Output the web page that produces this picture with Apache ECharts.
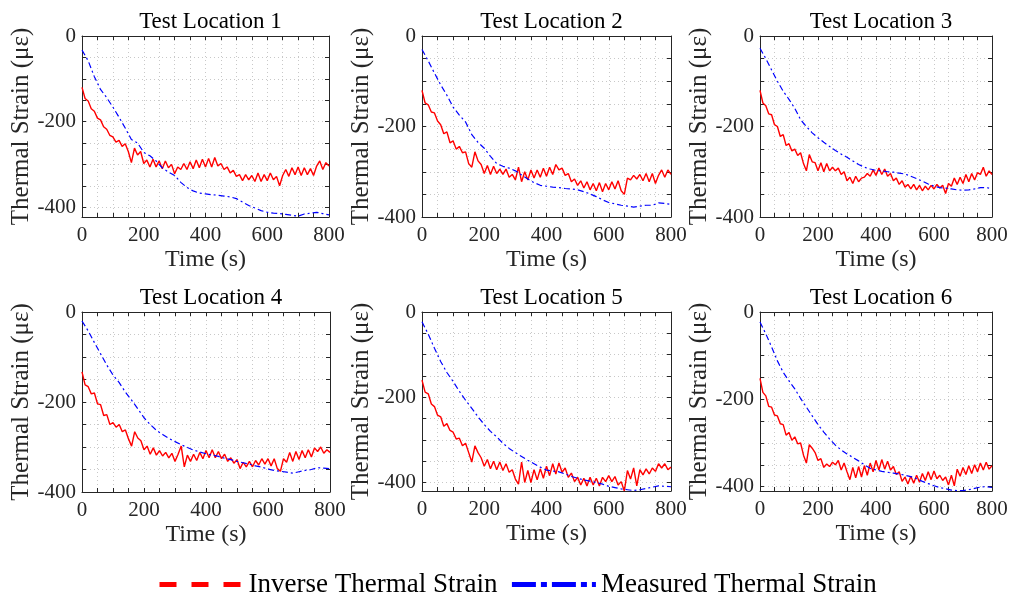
<!DOCTYPE html>
<html><head><meta charset="utf-8">
<script src="https://cdn.jsdelivr.net/npm/echarts@6/dist/echarts.min.js"></script>
<style>html,body{margin:0;padding:0;background:#fff}#c{width:1013px;height:599px}</style>
</head><body><div id="c"></div><script>
const titles = ['Test Location 1','Test Location 2','Test Location 3','Test Location 4','Test Location 5','Test Location 6'];
const seriesNames = ['Inverse Thermal Strain','Measured Thermal Strain'];
const timeFine = [0,10,20,30,40,50,60,70,80,90,100,110,120,130,140,150,160,170,180,190,200,210,220,230,240,250,260,270,280,290,300,310,320,330,340,350,360,370,380,390,400,410,420,430,440,450,460,470,480,490,500,510,520,530,540,550,560,570,580,590,600,610,620,630,640,650,660,670,680,690,700,710,720,730,740,750,760,770,780,790,800];
const timeCoarse = [0,20,40,60,80,100,120,140,160,180,200,220,240,260,280,300,320,340,360,380,400,420,440,460,480,500,520,540,560,580,600,620,640,660,680,700,720,740,760,780,800];

const inverse1 = [-120,-146,-152,-170,-176,-192,-196,-212,-218,-232,-236,-248,-244,-258,-252,-270,-296,-262,-278,-270,-298,-290,-306,-288,-306,-292,-310,-292,-308,-300,-322,-306,-312,-298,-312,-294,-310,-290,-308,-288,-306,-286,-306,-284,-304,-298,-312,-306,-320,-314,-328,-324,-338,-324,-336,-326,-340,-320,-340,-324,-338,-320,-336,-328,-350,-326,-312,-328,-308,-324,-306,-326,-308,-324,-310,-326,-304,-292,-312,-296,-304];
const inverse2 = [-120,-148,-152,-168,-170,-188,-196,-216,-212,-236,-232,-250,-244,-258,-256,-282,-290,-256,-276,-284,-304,-286,-306,-288,-304,-294,-306,-294,-312,-306,-318,-290,-322,-300,-318,-296,-314,-296,-312,-292,-310,-290,-306,-284,-296,-292,-308,-304,-322,-316,-330,-320,-336,-322,-340,-326,-342,-324,-344,-326,-340,-322,-338,-320,-342,-350,-314,-318,-308,-316,-306,-320,-304,-322,-304,-326,-308,-296,-312,-296,-306];
const inverse3 = [-120,-148,-154,-172,-174,-196,-200,-222,-218,-242,-238,-254,-250,-264,-258,-282,-298,-262,-278,-280,-298,-280,-300,-282,-298,-290,-298,-292,-306,-300,-320,-312,-326,-310,-322,-314,-312,-304,-310,-296,-308,-292,-306,-294,-310,-304,-320,-314,-328,-320,-334,-328,-338,-328,-340,-330,-342,-332,-340,-330,-338,-328,-336,-330,-348,-326,-332,-314,-328,-312,-326,-306,-322,-304,-318,-302,-306,-290,-310,-298,-306];
const inverse4 = [-133,-162,-166,-182,-180,-204,-206,-230,-228,-250,-246,-256,-250,-266,-262,-282,-298,-266,-280,-286,-306,-298,-316,-302,-318,-308,-320,-312,-324,-314,-332,-316,-298,-344,-318,-332,-316,-330,-312,-326,-308,-324,-306,-324,-310,-326,-316,-332,-324,-336,-328,-348,-334,-344,-332,-344,-330,-340,-326,-338,-326,-342,-326,-348,-354,-326,-334,-312,-332,-310,-328,-308,-324,-306,-322,-302,-310,-300,-314,-306,-312];
const inverse5 = [-160,-188,-192,-216,-222,-242,-246,-268,-262,-278,-282,-298,-296,-314,-308,-330,-352,-314,-330,-342,-362,-346,-368,-350,-370,-352,-372,-356,-376,-370,-392,-404,-352,-400,-372,-400,-370,-394,-368,-390,-362,-384,-356,-380,-354,-376,-366,-388,-378,-398,-388,-406,-390,-408,-388,-406,-390,-408,-388,-398,-384,-398,-386,-406,-398,-420,-372,-392,-366,-408,-370,-382,-368,-380,-366,-374,-356,-366,-356,-370,-364];
const inverse6 = [-152,-184,-192,-216,-218,-236,-238,-256,-258,-282,-276,-294,-286,-302,-300,-328,-346,-304,-312,-322,-340,-336,-356,-348,-354,-344,-350,-340,-362,-346,-366,-384,-356,-380,-354,-378,-352,-374,-346,-366,-340,-362,-338,-360,-342,-362,-354,-372,-366,-388,-378,-394,-376,-392,-374,-390,-370,-386,-366,-384,-364,-382,-374,-386,-378,-396,-374,-398,-360,-376,-356,-372,-352,-370,-350,-366,-346,-362,-344,-360,-352];

const measured1 = [-33,-58,-95,-125,-144,-166,-190,-215,-242,-250,-272,-280,-292,-308,-318,-326,-342,-354,-362,-367,-369,-371,-372,-374,-376,-380,-388,-396,-402,-408,-412,-414,-415,-417,-419,-421,-416,-414,-412,-415,-418];
const measured2 = [-30,-55,-82,-108,-131,-157,-175,-190,-218,-235,-248,-266,-282,-288,-292,-298,-307,-316,-324,-330,-332,-334,-335,-337,-338,-340,-344,-349,-355,-362,-368,-371,-374,-376,-378,-376,-374,-374,-369,-370,-372];
const measured3 = [-27,-50,-75,-100,-122,-140,-160,-185,-200,-214,-225,-235,-244,-253,-261,-268,-276,-284,-290,-294,-297,-298,-300,-301,-303,-305,-310,-315,-321,-327,-332,-335,-336,-338,-340,-341,-340,-338,-335,-335,-337];
const measured4 = [-20,-42,-68,-93,-118,-140,-157,-178,-196,-215,-235,-250,-263,-272,-281,-288,-295,-301,-307,-311,-315,-318,-321,-325,-328,-332,-335,-338,-342,-345,-349,-352,-354,-356,-358,-355,-352,-350,-346,-347,-348];
const measured5 = [-23,-52,-85,-116,-142,-163,-186,-207,-226,-246,-264,-280,-293,-308,-320,-330,-339,-348,-356,-364,-371,-373,-375,-380,-386,-390,-394,-397,-400,-404,-409,-412,-415,-417,-419,-417,-414,-411,-408,-409,-410];
const measured6 = [-23,-50,-80,-112,-138,-158,-176,-198,-218,-238,-258,-275,-291,-305,-316,-325,-333,-341,-350,-358,-362,-365,-367,-369,-371,-374,-377,-382,-388,-393,-398,-402,-405,-408,-409,-409,-407,-404,-401,-400,-402];

const inverseAll = [inverse1, inverse2, inverse3, inverse4, inverse5, inverse6];
const measuredAll = [measured1, measured2, measured3, measured4, measured5, measured6];
const yMins = [-423, -400, -400, -400, -420, -410];
const xTickLabels = [0, 200, 400, 600, 800];
const yTickLabels = [0, -200, -400];
const yMinorTicks = [0, -50, -100, -150, -200, -250, -300, -350, -400];

const rects = [[82,36,247,181],[422,36,249,181],[760,36,232,181],[82,312,248,180],[422,312,249,179],[760,312,232,179]];

const FONT = '"Liberation Serif", "Times New Roman", serif';
const AX = '#262626';
const grid = [], xAxis = [], yAxis = [], series = [], title = [];
rects.forEach((r, i) => {
  grid.push({left: r[0], top: r[1], width: r[2], height: r[3], containLabel: false});
  title.push({text: titles[i], left: r[0] + r[2] / 2, top: r[1] - 31, textAlign: 'center',
    textStyle: {fontFamily: FONT, fontSize: 23, fontWeight: 'normal', color: '#000'}});
  const xBase = {type: 'value', gridIndex: i, min: 0, max: 800, interval: 50,
    axisLine: {show: true, onZero: false, lineStyle: {color: AX, width: 1}},
    axisTick: {show: true, inside: true, length: 4, lineStyle: {color: AX}}};
  xAxis.push(Object.assign({}, xBase, {position: 'bottom',
    name: 'Time (s)', nameLocation: 'middle', nameGap: 31,
    nameTextStyle: {fontFamily: FONT, fontSize: 24, color: AX},
    axisLabel: {show: true, margin: 8, fontFamily: FONT, fontSize: 21, color: AX,
      customValues: xTickLabels},
    splitLine: {show: true, lineStyle: {color: '#c8c8c8', type: [1, 3], width: 1}}}));
  xAxis.push(Object.assign({}, xBase, {position: 'top', axisLabel: {show: false}, splitLine: {show: false}}));
  const yBase = {type: 'value', gridIndex: i, min: yMins[i], max: 0,
    axisLine: {show: true, onZero: false, lineStyle: {color: AX, width: 1}},
    axisTick: {show: true, inside: true, length: 4, lineStyle: {color: AX}, customValues: yMinorTicks}};
  yAxis.push(Object.assign({}, yBase, {position: 'left',
    name: 'Thermal Strain (με)', nameLocation: 'middle', nameGap: 46, nameRotate: 90,
    nameTextStyle: {fontFamily: FONT, fontSize: 25, color: AX},
    axisLabel: {show: true, margin: 6, fontFamily: FONT, fontSize: 21, color: AX, customValues: yTickLabels},
    splitLine: {show: true, lineStyle: {color: '#c8c8c8', type: [1, 3], width: 1}}}));
  yAxis.push(Object.assign({}, yBase, {position: 'right', axisLabel: {show: false}, splitLine: {show: false}}));
  series.push({name: seriesNames[0], type: 'line', xAxisIndex: 2 * i, yAxisIndex: 2 * i,
    data: timeFine.map((t, k) => [t, inverseAll[i][k]]), showSymbol: false, symbol: 'none',
    lineStyle: {color: '#ff0000', width: 1.4}, itemStyle: {color: '#ff0000'}, z: 3});
  series.push({name: seriesNames[1], type: 'line', xAxisIndex: 2 * i, yAxisIndex: 2 * i,
    data: timeCoarse.map((t, k) => [t, measuredAll[i][k]]), showSymbol: false, symbol: 'none',
    lineStyle: {color: '#0000ff', width: 1.2, type: [6, 3, 2, 3]}, itemStyle: {color: '#0000ff'}, z: 4});
});

const chart = echarts.init(document.getElementById('c'), null, {renderer: 'canvas'});
chart.setOption({
  animation: false,
  backgroundColor: '#fff',
  title, grid, xAxis, yAxis, series,
  legend: {left: 152, top: 566, itemWidth: 84, itemHeight: 14, itemGap: 12,
    itemStyle: {opacity: 0},
    textStyle: {fontFamily: FONT, fontSize: 27, color: '#000'},
    data: [
      {name: seriesNames[0], itemStyle: {opacity: 0}, lineStyle: {color: '#ff0000', width: 5, type: [17, 15]}},
      {name: seriesNames[1], itemStyle: {opacity: 0}, lineStyle: {color: '#0000ff', width: 5, type: [24, 5, 6, 5]}}
    ]}
});
</script></body></html>
